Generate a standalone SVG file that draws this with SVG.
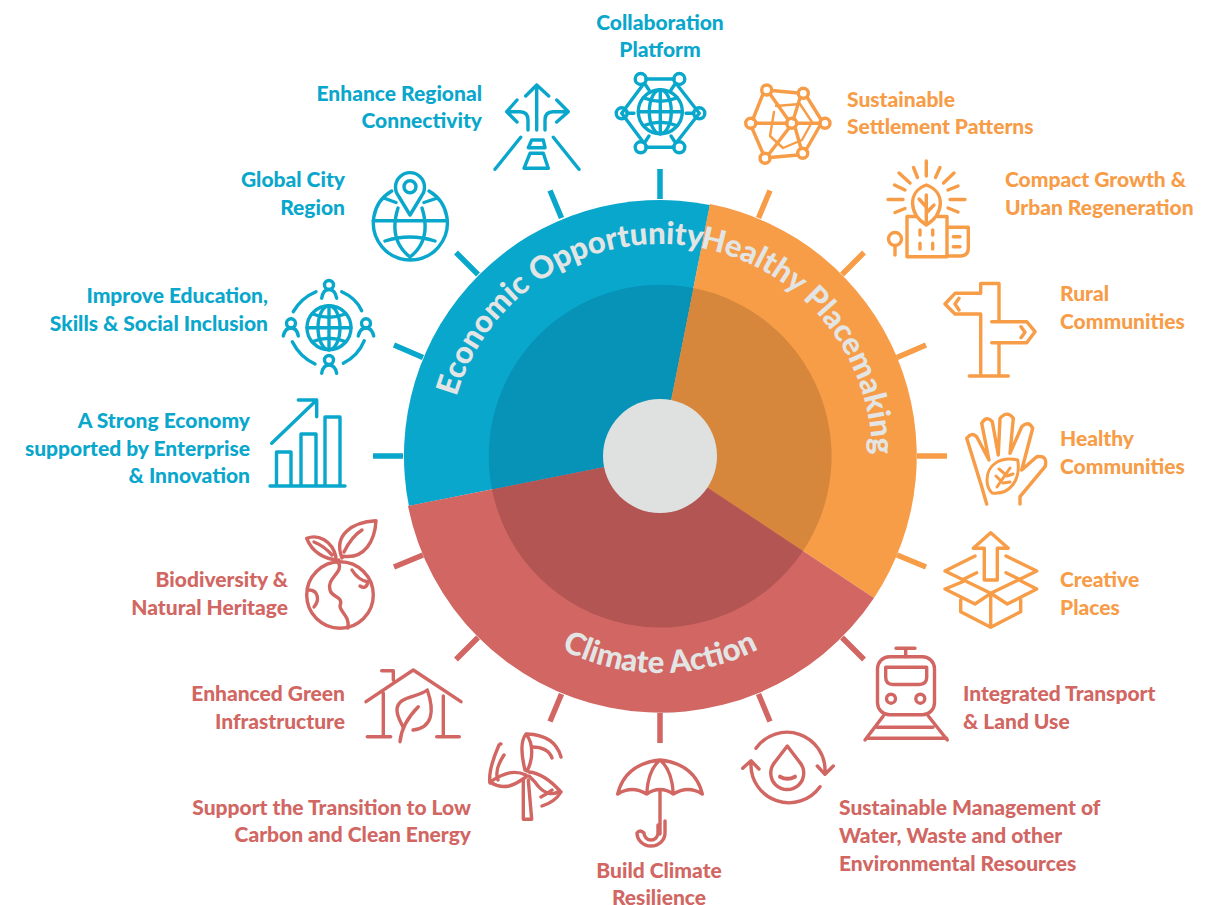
<svg xmlns="http://www.w3.org/2000/svg" width="1210" height="905" viewBox="0 0 1210 905">
<style>
text{font-family:"Lato","Liberation Sans",sans-serif;font-weight:900;font-size:21px}
.b{fill:#09a7cc}.o{fill:#f79c47}.r{fill:#d16662}
.e{text-anchor:end}.m{text-anchor:middle}
.ic{fill:none;stroke-width:3.4;stroke-linecap:round;stroke-linejoin:round}
.ib{stroke:#09a7cc}.io{stroke:#f79c47}.ir{stroke:#d16662}
.tk{stroke-width:5.5;fill:none}
.arc{font-size:31px;fill:#e3e5e5}
</style>
<defs>
<g id="globe">
<circle cx="0" cy="0" r="22"/><path d="M-22 0H22M0 -22V22"/><ellipse cx="0" cy="0" rx="11" ry="22"/>
<path d="M-17 -14Q0 -7 17 -14M-17 14Q0 7 17 14"/>
</g>
<path id="pe" d="M440 456A220 220 0 1 1 880 456" fill="none"/>
<path id="p1" d="M434.700 499.800A229.500 229.500 0 0 1 660 226.500" fill="none"/>
<path id="p2" d="M448 456A212 212 0 0 1 872 456" fill="none"/>
<path id="p3" d="M443 456A217 217 0 0 0 877 456" fill="none"/>
</defs>
<g id="wheel">
<path d="M408.900 506A256 256 0 0 1 710 204.900L660 456Z" fill="#09a7cc" transform="translate(0 0)"/>
<path d="M710 204L660 456L874 598A257 257 0 0 0 710 204Z" fill="#f79c47"/>
<path d="M408 506L660 456L874 598A257 257 0 0 1 408 506Z" fill="#d16662"/>
<path d="M492 489.500A171.500 171.500 0 0 1 693.500 288L660 456Z" fill="#0792b8"/>
<path d="M693.500 288L660 456L803 551A171.500 171.500 0 0 0 693.500 288Z" fill="#d6873c"/>
<path d="M492 489.500L660 456L803 551A171.500 171.500 0 0 1 492 489.500Z" fill="#b35653"/>
<circle cx="660" cy="456" r="57" fill="#dfe1e1"/>
<text class="arc"><textPath href="#p2" startOffset="9%">Economic Opportunity</textPath></text>
<text class="arc"><textPath href="#p2" startOffset="56%">Healthy Placemaking</textPath></text>
<text class="arc m"><textPath href="#p3" startOffset="50%">Climate Action</textPath></text>
</g>
<g id="connectors">
<g stroke="#09a7cc" class="tk">
<path d="M660 169V199M550 190.500L561.500 218M456 252.500L478 274.500M394 345L423 357.500M373 456H403"/>
</g>
<g stroke="#f79c47" class="tk">
<path d="M770 190.500L758.500 218M864 252.500L842 274.500M926 345L897 357.500M947 456H917"/>
<path d="M926 567L897 555"/>
</g>
<g stroke="#d16662" class="tk">
<path d="M394 567L423 555M456 659.500L478 637.500M550 721.500L561.500 694M660 743V713M770 721.500L758.500 694M864 659.500L842 637.500"/>
</g>
</g>
<g id="n-collaboration">
<text class="b m" x="660" y="30">Collaboration</text><text class="b m" x="660" y="57">Platform</text>
<g class="ic ib">
<use href="#globe" transform="translate(660.300 111.700)"/>
<circle cx="640.700" cy="79" r="5.500"/><circle cx="679.300" cy="79" r="5.500"/><circle cx="621.700" cy="113.300" r="5.500"/><circle cx="699.300" cy="113.300" r="5.500"/><circle cx="640.700" cy="147.300" r="5.500"/><circle cx="679.300" cy="147.300" r="5.500"/>
<path d="M646 79H674M676.500 84L699.300 113.300L676.500 142.500M674 147.300H646M643.500 142.500L621.700 113.300L643.500 84M627 113.300H634M693 113.300H686M645 84L649 90M675 84L671 90M645 142L649 136M675 142L671 136"/>
</g>
</g>
<g id="n-connectivity">
<text class="b e" x="482" y="101">Enhance Regional</text><text class="b e" x="482" y="128">Connectivity</text>
<g class="ic ib">
<path d="M536.700 85V130M525.700 96L536.700 85L548.700 96M517 100L506.700 111.700L517 122M506.700 111.700H520Q528 111.700 528 120V130M556.700 100L568.300 111.700L556.700 122M568.300 111.700H553Q545 111.700 545 120V130"/>
<path d="M520.700 137.300L495 169.300M553.300 137.300L579 169.300M531.700 140H543.300L545 147.700H528.300ZM530 153.300H543.300L548.300 168.300H524Z"/>
</g>
</g>
<g id="n-global-city">
<text class="b e" x="345" y="187">Global City</text><text class="b e" x="345" y="215">Region</text>
<g class="ic ib" stroke-width="3.4">
<path d="M391.700 191A37 37 0 1 0 429 191M385 198.500L396 202.500M424 202.500L436 198.500M373 220.700H447M385 241Q410 233 435 241M398 208Q388 240 410 257M422 208Q432 240 410 257"/>
<path d="M410 215L398.500 196A14.500 14.500 0 1 1 421.500 196Z"/><circle cx="410" cy="186.700" r="6"/>
</g>
</g>
<g id="n-education">
<text class="b e" x="268" y="303">Improve Education,</text><text class="b e" x="268" y="331">Skills &amp; Social Inclusion</text>
<g class="ic ib">
<use href="#globe" transform="translate(329 327.700)"/>
<path d="M293.300 311.700Q301 298 316 291.700M341.700 291.700Q356 298 361.700 310.700M292.300 341.700Q300 357 315 364M343.300 363.300Q358 356 364.300 340.700"/>
<circle cx="329" cy="285" r="4.500"/><path d="M321.700 298.300Q323 289.500 329 289.500Q335 289.500 336.700 298.300"/>
<circle cx="291" cy="323.300" r="4.500"/><path d="M283.300 336Q285 328 291 328Q297 328 298.300 336"/>
<circle cx="366" cy="323.300" r="4.500"/><path d="M358.300 336Q360 328 366 328Q372 328 373.700 336"/>
<circle cx="329" cy="360" r="4.500"/><path d="M321.700 373.300Q323 365 329 365Q335 365 336.700 373.300"/>
</g>
</g>
<g id="n-economy">
<text class="b e" x="250" y="428">A Strong Economy</text><text class="b e" x="250" y="456">supported by Enterprise</text><text class="b e" x="250" y="483">&amp; Innovation</text>
<g class="ic ib">
<path d="M270 486H345M276.500 486V452H291V486M301 486V434H316V486M325 486V417H340V486M271.700 443.300L316.700 400M298.300 400H316.700V416.700"/>
</g>
</g>
<g id="n-biodiversity">
<text class="r e" x="288" y="587">Biodiversity &amp;</text><text class="r e" x="288" y="615">Natural Heritage</text>
<g class="ic ir">
<circle cx="340" cy="595" r="33.300"/>
<path d="M342 558C333 535 352 522 376 520.700C375 540 365 560 342 556M344 552Q352 536 362 530M339 560C325 560 312 552 306.700 538.300C318 534 332 540 336 557M314 542Q324 546 332 555"/>
<path d="M338 562C345 572 326 578 330 590C332 598 344 596 340 606C340 612 350 616 348 628M309 590C318 590 320 600 314 607M352 570Q358 580 368 582Q366 590 360 586"/>
</g>
</g>
<g id="n-green">
<text class="r e" x="345" y="701">Enhanced Green</text><text class="r e" x="345" y="729">Infrastructure</text>
<g class="ic ir">
<path d="M366 701.700L413.300 670L461 701.700M383.300 693V736.700M381.700 670.700H393.300V680M443.300 696V736.700M367.300 736.700H390.700M436.700 736.700H459.300"/>
<path d="M427.300 690C417 698 397 696 397 710C397 717 401 722 403 727M427.300 690C435 712 432 728 413 730M400 741.700Q401.700 723.300 418.300 706.700"/>
</g>
</g>
<g id="n-energy">
<text class="r e" x="471" y="815">Support the Transition to Low</text><text class="r e" x="471" y="842">Carbon and Clean Energy</text>
<g class="ic ir">
<path d="M523.300 780V819.300H531.700L528.300 780M525 770C520 750 522 739 526 734C534 744 533 760 527 771"/>
<path d="M526 775C515 770 505 772 490 782Q499 788 509 786C517 784 521 780 526 777M529 772C540 773 550 780 560 791C552 796 544 793 538 786C534 780 531 778 529 776"/>
<path d="M527 734Q555 735 561 757M532 747Q548 747 552 758M499 745Q488 770 490 783M504 755Q494 770 498 780M561 792Q555 802 542 806M552 790Q547 794 541 797M500 744L501 744"/>
</g>
</g>
<g id="n-resilience">
<text class="r m" x="659" y="878">Build Climate</text><text class="r m" x="659" y="905">Resilience</text>
<g class="ic ir">
<path d="M617.700 794Q625 764 660 760Q695 764 702.300 794Q688 785 673.300 794Q660 785 646.700 794Q632 785 617.700 794ZM660 760Q648 770 646.700 794M660 760Q672 770 673.300 794M660 790V834"/>
<path d="M665 821V833A14 13 0 0 1 637 833Q640 829 644 833A6 6 0 0 0 658 833V825"/>
</g>
</g>
<g id="n-water">
<text class="r" x="839" y="815">Sustainable Management of</text><text class="r" x="839" y="843">Water, Waste and other</text><text class="r" x="839" y="871">Environmental Resources</text>
<g class="ic ir">
<path d="M756 748.300A38 38 0 0 1 825 772M817.300 766L825 774.300L833.300 766M820 786.700A38 38 0 0 1 751 763M742.700 768.300L751 760.700L759 769"/>
<path d="M787.300 746L775 762A16.500 16.500 0 1 0 799.500 762Z"/><path d="M780 776.700Q787.500 781 795 776.700" stroke-width="4"/>
</g>
</g>
<g id="n-transport">
<text class="r" x="963" y="701">Integrated Transport</text><text class="r" x="963" y="729">&amp; Land Use</text>
<g class="ic ir">
<rect x="877.500" y="656.700" width="57" height="58" rx="12"/>
<path d="M885.700 667.300H926.700V677Q926.700 684.500 919 684.500H893Q885.700 684.500 885.700 677Z"/>
<circle cx="891" cy="698.700" r="4.500"/><circle cx="920.300" cy="698.700" r="4.500"/>
<path d="M905.700 648.300V656.700M896 648.300H915M883.300 716L865 740M928.300 716L947.300 740M877 727.300H933M866.700 738.300H946.700"/>
</g>
</g>
<g id="n-creative">
<text class="o" x="1060" y="587">Creative</text><text class="o" x="1060" y="615">Places</text>
<g class="ic io">
<path d="M990.700 532.700L973.300 548.300H984.300V580H997.300V548.300H1008.300Z"/>
<path d="M975 556L945 571L990.700 593.300L1036.700 571L1006 556M976.700 572.700L962 580M1006 572.700L1021 580M962.700 581.700L945 589L975 604L990.700 593.300L1007.300 604L1036.700 589L1021 581M960.700 600V611.700L990.700 627.300L1020.700 611.700V600M990.700 593.300V627.300"/>
</g>
</g>
<g id="n-healthy">
<text class="o" x="1060" y="446">Healthy</text><text class="o" x="1060" y="474">Communities</text>
<g class="ic io">
<path d="M986.700 504L981.700 486.700L966.700 438.300Q971.700 431.700 976.700 436.700L989 460L981.700 423.300Q986.700 415 992.300 421.700L998.300 455L1000 418.300Q1007.300 410 1013.300 418.300L1010 453.300L1021.700 426.700Q1028.300 420 1032.700 428.300L1021.700 470L1036.700 456.700Q1048.300 455 1045 466.700L1020 496.700V504"/>
<path d="M1017.700 460C1000 456 987 465 987 480C987 487 989 490 992 493C1010 495 1021 480 1017.700 460ZM997 487L1010 468M1001 481L996 476M1005 474L999 469M1003 483L1010 482M1007 476L1013 474" stroke-width="3"/>
</g>
</g>
<g id="n-rural">
<text class="o" x="1060" y="301">Rural</text><text class="o" x="1060" y="329">Communities</text>
<g class="ic io">
<path d="M980.700 293.300V283.500H999V321.700M980.700 293.300H955L945 304L955 314H980.700V376M991.700 321.700H1026.700L1035 331.700L1026.700 342.700H991.700M999 342.700V376M969.300 376H1008.300M959 298.300L955 304L959 310M1021 326.700L1025 332.300L1021 337.700"/>
</g>
</g>
<g id="n-compact">
<text class="o" x="1005" y="187">Compact Growth &amp;</text><text class="o" x="1005" y="215">Urban Regeneration</text>
<g class="ic io">
<path d="M926.300 161V176M913.500 167.500L917.500 177.500M940 167.500L935.500 177.500M899 173L910 183M954 173L943.500 183M894.500 185L905 190M958 186L948 190M888 199.500H903M950 199.500H965M895 212.500L905 208.500M958 212L948 208"/>
<path d="M926.300 185C907 192 909 214 926.300 225C944 214 946 192 926.300 185ZM926.300 195V224M926.300 207L919 199M926.300 213L934 205"/>
<path d="M916 216.500H907V256.700H947V216.500H938M947 227.300H968.300V248Q968.300 256 960 256H947M920 230V235M932.700 230V235M920 243.300V249M932.700 243.300V249M953.300 236.700H960M953.300 246.700H960"/>
<circle cx="895" cy="239" r="6.500"/><path d="M895 245.500V255"/>
</g>
</g>
<g id="n-settlement">
<text class="o" x="847" y="107">Sustainable</text><text class="o" x="847" y="134">Settlement Patterns</text>
<g class="ic io">
<circle cx="766.700" cy="90" r="5"/><circle cx="803.300" cy="93.300" r="5"/><circle cx="750.700" cy="123.300" r="5"/><circle cx="791.700" cy="123.300" r="5"/><circle cx="825" cy="123.300" r="5"/><circle cx="765" cy="158.300" r="5"/><circle cx="802.700" cy="153.300" r="5"/>
<path d="M771.700 90.500L798.300 93M807 97L821 119.500M820 125.500L806 150M798 155L770 157.500M763 153.500L752 128M753 119L763 94M755.700 123.300H787M796.700 123.300H820M770 94L788 119.500M800 98L793.500 119M789 128L769 154M795 127L801 148.500"/>
<path d="M774 112L770 136L783 148L802 140L812 122L800 104L776 106" stroke-width="2.400"/>
</g>
</g>
</svg>
